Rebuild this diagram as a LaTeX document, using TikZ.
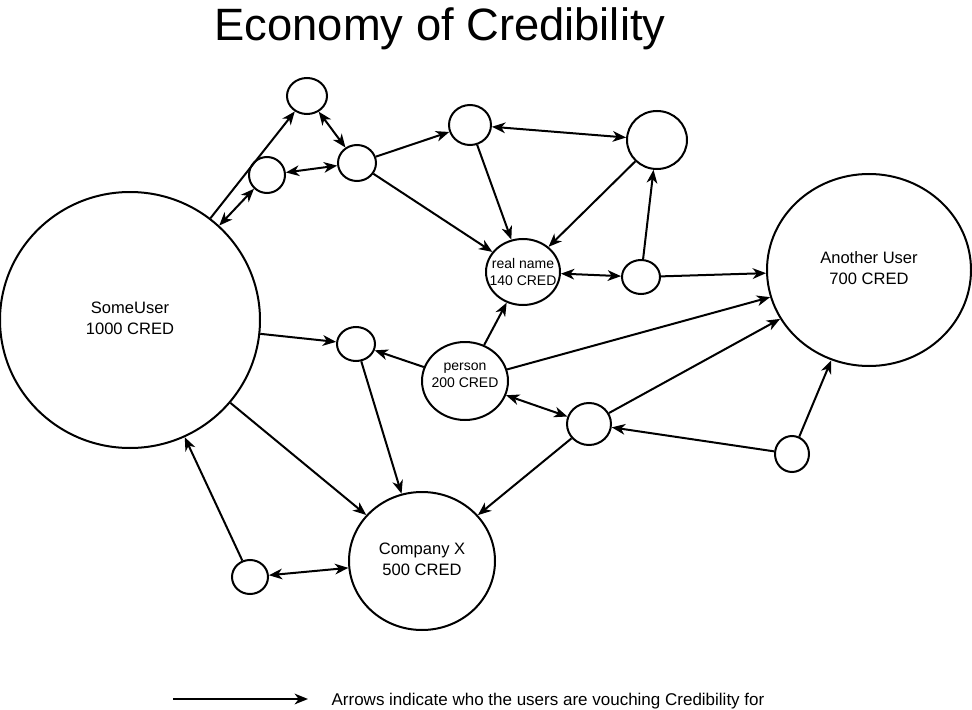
\documentclass[tikz,border=0pt]{standalone}
\usepackage{fontspec}
\setmainfont{Liberation Sans}
\usetikzlibrary{shapes.geometric,arrows.meta}

\begin{document}
\begin{tikzpicture}[x=0.75pt,y=-0.75pt,
    >={Stealth[length=10pt,width=8pt,inset=3pt]},
    user/.style 2 args={ellipse,draw,line width=1.5pt,inner sep=0pt,align=center,
      minimum width=#1*0.75pt,minimum height=#2*0.75pt,
      font=\fontsize{12.4}{15.7}\selectfont},
    small/.style={align=center,font=\fontsize{10.5}{12.8}\selectfont},
    vouch/.style={->,line width=1.5pt},
    mutual/.style={<->,line width=1.5pt}]
  \useasboundingbox (0,0) rectangle (972,710);

  % Title
  \node[font=\fontsize{34}{40}\selectfont] (title) at (440,29) {Economy of Credibility};

  % Users
  \node[user={260}{256}] (su) at (130,320) {SomeUser\\1000 CRED\vspace{3pt}};
  \node[user={204}{192}] (au) at (869,270) {Another User\\700 CRED\vspace{3pt}};
  \node[user={146}{138}] (cx) at (422,561) {Company X\\500 CRED\vspace{3pt}};
  \node[user={74}{66},label={[small]center:real name\\140 CRED}] (rn) at (523,272) {};
  \node[user={86}{78},label={[small,yshift=4.5pt]center:person\\200 CRED}] (pe) at (465,381) {};

  % Unnamed users
  \node[user={40}{36}] (a) at (307,96) {};
  \node[user={36}{36}] (b) at (267,175) {};
  \node[user={38}{36}] (c) at (357,163) {};
  \node[user={42}{40}] (d) at (470,125) {};
  \node[user={60}{58}] (e) at (657,140) {};
  \node[user={38}{34}] (f) at (641,277) {};
  \node[user={38}{34}] (g) at (356,344) {};
  \node[user={44}{42}] (h) at (589,424) {};
  \node[user={34}{36}] (i) at (792,454) {};
  \node[user={36}{34}] (j) at (250,577) {};

  % Vouching
  \draw[vouch] (su) -- (a);
  \draw[mutual] (su) -- (b);
  \draw[mutual] (b) -- (c);
  \draw[mutual] (a) -- (c);
  \draw[vouch] (c) -- (d);
  \draw[vouch] (c) -- (rn);
  \draw[vouch] (d) -- (rn);
  \draw[mutual] (d) -- (e);
  \draw[vouch] (e) -- (rn);
  \draw[mutual] (rn) -- (f);
  \draw[vouch] (f) -- (e);
  \draw[vouch] (f) -- (au);
  \draw[vouch] (su) -- (g);
  \draw[vouch] (pe) -- (g);
  \draw[vouch] (pe) -- (rn);
  \draw[vouch] (pe) -- (au);
  \draw[mutual] (pe) -- (h);
  \draw[vouch] (h) -- (au);
  \draw[vouch] (i) -- (h);
  \draw[vouch] (i) -- (au);
  \draw[vouch] (h) -- (cx);
  \draw[vouch] (g) -- (cx);
  \draw[vouch] (su) -- (cx);
  \draw[vouch] (j) -- (su);
  \draw[mutual] (j) -- (cx);

  % Legend
  \coordinate (l1) at (173,699);
  \coordinate (l2) at (308,699);
  \draw[vouch] (l1) -- (l2);
  \node[font=\fontsize{12.75}{15}\selectfont] (legend) at (548,701)
    {Arrows indicate who the users are vouching Credibility for};
\end{tikzpicture}
\end{document}
